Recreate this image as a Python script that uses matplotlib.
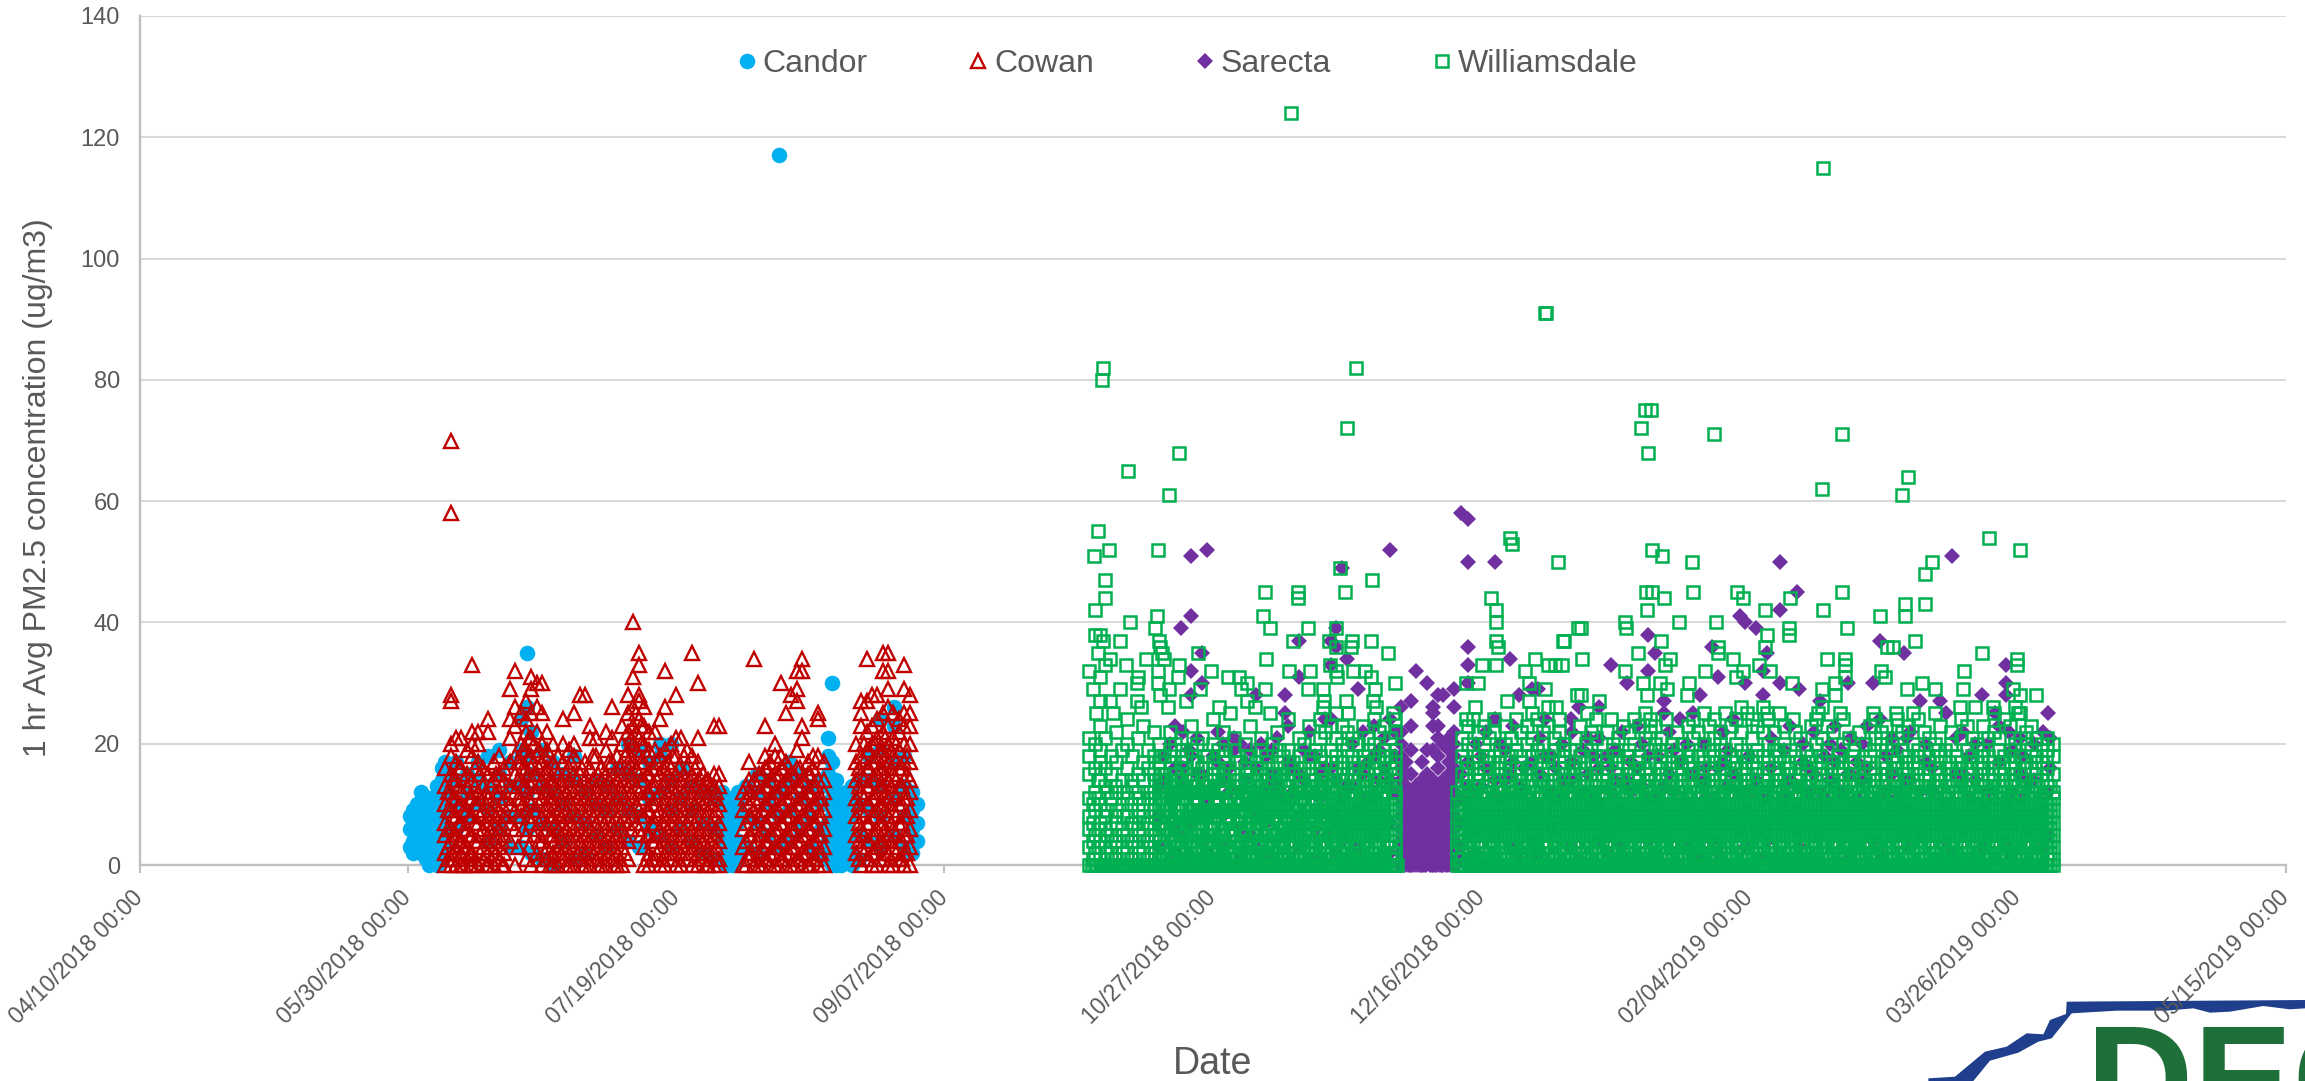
'''1 hr PM2.5 scatter for four monitoring sites'''
import matplotlib
matplotlib.use('Agg')
import matplotlib.pyplot as plt
from matplotlib.patches import Polygon
from matplotlib.transforms import ScaledTranslation

plt.rcParams['font.family'] = ['Liberation Sans', 'DejaVu Sans']

# x values are days since 04/10/2018
tick_days = [0, 50, 100, 150, 200, 250, 300, 350, 400]
tick_labels = ['04/10/2018 00:00', '05/30/2018 00:00', '07/19/2018 00:00', '09/07/2018 00:00',
               '10/27/2018 00:00', '12/16/2018 00:00', '02/04/2019 00:00', '03/26/2019 00:00',
               '05/15/2019 00:00']
y_ticks = [0, 20, 40, 60, 80, 100, 120, 140]

# each row: day, then the readings seen on that day
candor_rows = [
    [50.5, 3, 6, 8], [51, 2, 4, 7, 9], [51.7, 3, 5, 8, 10], [52.5, 2, 5, 7, 9, 12], [53.3, 1, 3, 6, 8, 10],
    [54, 0, 3, 5, 8, 11], [54.8, 1, 4, 7, 10], [55.5, 0, 2, 5, 8, 11, 13], [56.3, 1, 4, 7, 10, 14, 16], [57, 3, 6, 9, 12, 15, 17],
    [59, 6, 10, 14, 17], [61, 8, 12, 15], [63, 10, 14, 17], [65, 4, 9, 13, 18], [67, 6, 11, 15, 19], [69, 3, 8, 13, 17],
    [71, 3, 8, 13, 19, 24], [72.2, 6, 12, 18, 26, 35], [73, 2, 9, 15, 22], [75, 1, 7, 13, 19], [77, 0, 6, 12, 17], [79, 4, 10, 15],
    [81, 1, 8, 14, 18], [83, 2, 7, 12], [85, 5, 10, 14], [87, 3, 9, 13], [89, 6, 11, 16], [91, 4, 9, 15, 20], [93, 3, 8, 14, 19],
    [95, 6, 11, 17], [97, 5, 12, 18, 20], [99, 3, 9, 14, 20], [101, 6, 11, 16], [103, 4, 9, 13], [105, 2, 7, 12], [107, 1, 6, 11, 12],
    [108.5, 1, 4, 7, 10, 12], [109.5, 0, 3, 6, 9, 11], [110.5, 0, 2, 5, 8, 10], [111.5, 1, 4, 7, 10, 12], [113, 3, 8, 13], [115, 2, 7, 12, 15],
    [117, 5, 10, 14], [119.1, 3, 8, 12, 117], [121, 4, 9, 14, 17], [123, 6, 11, 15], [125, 3, 8, 13], [127, 2, 6, 10, 14],
    [128.3, 1, 4, 7, 10, 13, 15, 18, 21], [129, 0, 2, 5, 8, 11, 14, 17, 30], [129.8, 0, 3, 6, 9, 12, 14], [130.8, 0, 2, 4, 7, 10], [131.7, 1, 3, 6, 9, 12],
    [132.7, 0, 2, 5, 8, 11, 13], [134, 1, 5, 10, 14], [136, 4, 9, 14, 18], [138, 3, 8, 13, 19, 24], [140.6, 5, 11, 17, 23, 26], [142.5, 3, 8, 13, 18],
    [144, 2, 6, 9, 12], [144.8, 4, 7, 10],
]

cowan_low = [
    [57, 0, 2, 5, 7, 10, 13, 16], [58, 0, 1, 4, 6, 9, 12, 15, 18, 20, 27, 28, 58, 70], [59, 0, 3, 5, 8, 11, 14, 17, 21],
    [60, 0, 2, 4, 7, 10, 12, 16, 21], [61, 1, 3, 6, 9, 13, 15, 19], [62, 0, 2, 5, 8, 11, 14, 18, 20, 22, 33], [63, 0, 4, 7, 10, 12, 17, 20, 22],
    [64, 1, 3, 6, 9, 13, 16], [65, 0, 2, 5, 8, 11, 15, 22, 24], [66, 0, 4, 7, 10, 14, 17], [67, 1, 3, 6, 9, 12, 15, 18],
    [68, 0, 2, 5, 8, 11, 14, 16], [69, 4, 7, 10, 13, 17, 21, 24, 29], [70, 0, 6, 9, 12, 15, 18, 23, 26, 32], [71, 8, 11, 14, 17, 20, 25],
    [72, 1, 5, 9, 13, 16, 19, 22, 24, 27], [73, 0, 7, 10, 13, 16, 18, 21, 25, 29, 31], [74, 2, 6, 9, 12, 15, 18, 22, 26, 30],
    [75, 0, 4, 8, 11, 14, 17, 20, 25, 30], [76, 1, 3, 7, 10, 13, 16, 19, 22], [77, 0, 2, 5, 8, 11, 14, 17, 20], [78, 0, 3, 6, 9, 12, 15, 18],
    [79, 1, 4, 7, 10, 13, 17, 20, 24], [80, 0, 2, 5, 8, 11, 14, 16, 19], [81, 0, 3, 6, 9, 12, 15, 18, 20, 25], [82, 1, 4, 7, 10, 13, 15, 28],
    [83, 0, 2, 5, 8, 11, 14, 17, 28], [84, 0, 3, 6, 9, 12, 16, 21, 23], [85, 1, 4, 7, 10, 13, 18, 21], [86, 0, 2, 5, 8, 11, 14, 16],
    [87, 0, 3, 6, 9, 12, 15, 19, 22], [88, 1, 4, 7, 10, 13, 17, 21, 26], [89, 0, 2, 5, 8, 11, 14, 18], [90, 0, 3, 6, 9, 12, 15, 20, 23],
    [91, 1, 4, 7, 10, 13, 16, 19, 22, 25, 28], [92, 8, 11, 14, 17, 20, 23, 26, 31, 40], [93, 6, 9, 12, 15, 18, 21, 24, 27, 28, 33, 35],
    [94, 0, 3, 8, 11, 14, 17, 20, 23, 26], [95, 0, 2, 5, 9, 12, 15, 19, 22], [96, 1, 4, 7, 10, 13, 16, 19, 22], [97, 0, 3, 6, 9, 12, 15, 18, 24],
    [98, 0, 2, 5, 8, 11, 14, 19, 26, 32], [99, 1, 4, 7, 10, 13, 16, 20], [100, 0, 3, 6, 9, 12, 15, 18, 21, 28], [101, 0, 2, 5, 8, 11, 14, 21],
    [102, 1, 4, 7, 10, 13, 16, 19], [103, 0, 3, 6, 9, 12, 15, 18, 35], [104, 0, 2, 5, 8, 11, 14, 17, 21, 30], [105, 1, 4, 7, 10, 13, 15],
    [106, 0, 3, 6, 9, 12, 14], [107, 0, 2, 5, 8, 11, 13, 15, 23], [108, 0, 1, 4, 7, 10, 13, 15, 23],
    [112.5, 0, 3, 6, 9, 12], [113.5, 1, 2, 5, 8, 10, 14, 17], [114.5, 0, 3, 6, 9, 11, 14, 34], [115.5, 0, 2, 5, 8, 12, 15],
    [116.5, 1, 4, 7, 10, 13, 16, 18, 23], [117.5, 0, 2, 5, 8, 11, 14, 17], [118.5, 0, 3, 6, 9, 12, 15, 18, 20], [119.5, 1, 4, 7, 10, 13, 16, 18, 30],
    [120.5, 0, 2, 5, 8, 11, 14, 17, 25], [121.5, 0, 3, 6, 9, 12, 15, 28], [122.5, 1, 4, 7, 10, 13, 16, 19, 27, 29, 32], [123.5, 0, 2, 5, 8, 11, 14, 21, 23, 32, 34],
    [124.5, 0, 3, 6, 9, 12, 15, 17], [125.5, 1, 4, 7, 10, 13, 16, 18], [126.5, 0, 2, 5, 8, 11, 14, 18, 24, 25], [127.5, 0, 3, 6, 9, 12, 14, 17],
    [133.5, 2, 5, 8, 11, 14, 17, 20], [134.5, 0, 3, 6, 9, 12, 15, 18, 23, 25, 27], [135.5, 1, 4, 7, 10, 13, 16, 19, 22, 27, 34], [136.5, 0, 2, 5, 8, 11, 14, 17, 20, 23, 28],
    [137.5, 0, 3, 6, 9, 12, 15, 18, 21, 24, 28], [138.5, 1, 4, 7, 10, 13, 16, 19, 22, 25, 32, 35], [139.5, 0, 2, 5, 8, 11, 14, 17, 20, 23, 26, 29, 32, 35],
    [140.5, 0, 3, 6, 9, 12, 15, 18, 21, 25], [141.5, 1, 4, 7, 10, 13, 16, 19, 22, 24], [142.5, 0, 2, 5, 8, 11, 14, 17, 20, 23, 25, 29, 33], [143.5, 0, 3, 6, 9, 12, 14, 17, 20, 23, 25, 28],
]
# second reading per day in the solid part of Cowan
cowan_mid = [
    [57.5, 1, 3, 6, 9, 12], [58.5, 2, 5, 8, 11, 14], [59.5, 1, 4, 7, 10, 13, 16], [60.5, 0, 3, 6, 9, 14], [61.5, 0, 2, 5, 8, 11], [62.5, 1, 4, 7, 10, 13, 16],
    [63.5, 2, 5, 8, 11, 15], [64.5, 0, 4, 7, 10, 12], [65.5, 1, 3, 6, 9, 13], [66.5, 2, 5, 8, 12, 15], [67.5, 0, 4, 7, 10, 13], [70.5, 3, 8, 11, 14, 17],
    [71.5, 6, 10, 13, 16, 19], [72.5, 3, 8, 11, 15, 18, 21], [73.5, 5, 9, 12, 15, 20], [74.5, 1, 4, 7, 10, 13, 16, 19], [75.5, 2, 6, 9, 12, 15, 18], [76.5, 0, 5, 8, 11, 14],
    [77.5, 1, 4, 7, 10, 13, 16], [78.5, 2, 5, 8, 11, 14], [79.5, 0, 3, 6, 9, 12, 15], [80.5, 1, 4, 7, 10, 13, 17], [81.5, 2, 5, 8, 11, 14], [82.5, 0, 3, 6, 9, 12, 16],
    [83.5, 1, 4, 7, 10, 13], [84.5, 2, 5, 8, 11, 14, 18], [85.5, 0, 3, 6, 9, 12, 15], [86.5, 1, 4, 7, 10, 13], [87.5, 2, 5, 8, 11, 14, 17], [88.5, 0, 3, 6, 9, 12, 15],
    [89.5, 1, 4, 7, 10, 13, 16], [90.5, 2, 5, 8, 11, 14, 18], [91.5, 6, 9, 12, 15, 18, 21], [92.5, 7, 10, 13, 16, 19, 22, 25], [93.5, 5, 8, 11, 14, 17, 20, 23], [94.5, 1, 5, 9, 12, 15, 18],
    [95.5, 1, 4, 7, 10, 13, 16], [96.5, 2, 5, 8, 11, 14, 17], [97.5, 1, 4, 7, 10, 13, 16], [98.5, 3, 6, 9, 12, 15, 17], [99.5, 2, 5, 8, 11, 14, 18], [100.5, 1, 4, 7, 10, 13, 16],
    [101.5, 3, 6, 9, 12, 15, 18], [102.5, 2, 5, 8, 11, 14], [103.5, 1, 4, 7, 10, 13, 16], [104.5, 3, 6, 9, 12], [105.5, 0, 2, 5, 8, 11, 14], [106.5, 1, 4, 7, 10, 13], [107.5, 3, 6, 9, 12],
    [113, 0, 4, 7, 11, 13], [114, 2, 5, 8, 12], [115, 1, 4, 7, 10, 13], [116, 0, 3, 6, 9, 12, 15], [117, 1, 4, 7, 10, 13, 16], [118, 2, 5, 8, 11, 14], [119, 0, 3, 6, 9, 12, 15],
    [120, 1, 4, 7, 10, 13, 16], [121, 2, 5, 8, 11, 14], [122, 0, 3, 6, 9, 12, 15], [123, 1, 4, 7, 10, 13, 16], [124, 2, 5, 8, 11, 14], [125, 0, 3, 6, 9, 12, 15], [126, 1, 4, 7, 10, 13], [127, 2, 5, 8, 11],
    [134, 1, 4, 7, 10, 13, 16], [135, 2, 5, 8, 11, 14, 17, 20], [136, 1, 4, 7, 10, 13, 16, 19], [137, 2, 5, 8, 11, 14, 17, 20], [138, 1, 4, 7, 10, 13, 16, 19], [139, 3, 6, 9, 12, 15, 18, 21],
    [140, 1, 4, 7, 10, 13, 16, 19], [141, 2, 5, 8, 11, 14, 17, 20], [142, 1, 4, 7, 10, 13, 16], [143, 2, 5, 8, 11, 15, 18],
]

# Sarecta shows where Williamsdale has no data and through the open squares
sarecta_rows = [
    [190, 3, 8, 13], [193, 2, 6, 11, 16, 23], [194, 39, 5, 14], [196, 1, 7, 12, 18, 28, 32, 41, 51], [198, 0, 4, 9, 15, 30, 35], [199, 2, 10, 52],
    [202, 3, 8, 14, 20], [205, 1, 6, 12, 20], [207, 0, 5, 10, 19], [208, 3, 9, 16, 28], [210, 2, 7, 13, 18], [213.5, 0, 5, 11, 25, 28], [216, 3, 8, 15, 31, 37],
    [219, 1, 6, 12, 18], [222, 5, 9, 16, 24, 33, 37], [223, 2, 7, 14, 36, 39], [224, 4, 11, 49], [225, 1, 6, 13, 34], [227, 3, 9, 16, 29], [230, 0, 5, 11, 18, 23],
    [233, 2, 7, 14, 24, 52],
    [235, 0, 2, 4, 6, 8, 10, 12, 14, 16, 18, 20, 22, 26], [236, 1, 3, 5, 7, 9, 11, 13, 15, 17], [237, 0, 2, 4, 6, 8, 10, 12, 15, 19, 23, 27], [237.9, 1, 3, 5, 7, 9, 11, 13, 32],
    [239, 0, 2, 4, 6, 8, 10, 12, 14, 17], [240, 1, 3, 5, 7, 9, 11, 13, 15, 19, 30], [241, 0, 2, 4, 6, 8, 10, 12, 14, 19, 23, 25, 26], [242, 1, 3, 5, 7, 9, 11, 13, 16, 18, 21, 23, 28],
    [243, 0, 2, 4, 6, 8, 10, 12, 14, 20, 28], [244, 1, 3, 5, 7, 9, 11, 13, 15, 17, 19, 21], [245, 0, 2, 4, 6, 8, 10, 12, 14, 16, 18, 20, 22, 26, 29], [246.2, 1, 3, 7, 11, 15, 58],
    [247.5, 5, 9, 13, 17, 30, 33, 36, 50, 57], [249, 2, 6, 12, 20], [252.6, 0, 6, 14, 24, 50], [255.3, 3, 8, 15, 34], [257, 1, 7, 13, 28], [259.5, 4, 10, 17, 29], [260.6, 2, 9, 29],
    [263, 0, 6, 12, 18], [266.8, 3, 8, 14, 24], [268.2, 1, 7, 26], [272, 4, 10, 16, 21, 26], [273.4, 2, 8, 18], [274.2, 5, 12, 16, 33], [276.2, 3, 9, 22], [277.2, 1, 7, 14, 30],
    [281.2, 4, 11, 18, 32, 38], [282.4, 2, 8, 35], [284, 0, 6, 13, 25, 27], [288.3, 3, 9, 20], [289.5, 5, 15, 25], [290.8, 1, 7, 28], [293, 4, 10, 36], [294.2, 2, 8, 16, 31],
    [298.2, 0, 6, 12, 41], [299.2, 3, 9, 30, 40], [301.3, 5, 14, 39], [302.6, 1, 7, 28, 32], [303.2, 4, 11, 35], [305.8, 2, 8, 30, 42, 50], [308.9, 0, 6, 13, 45], [309.2, 3, 9, 29],
    [313.2, 5, 12, 27], [318.3, 1, 7, 15, 30], [323.1, 4, 10, 30], [324.4, 2, 8, 24, 37], [328.8, 0, 6, 14, 35], [329.3, 3, 9, 21], [331.8, 5, 12, 27], [335.5, 1, 7, 27], [336.7, 4, 10, 25],
    [337.7, 2, 8, 51], [339.9, 0, 6, 15, 22], [343.3, 3, 9, 28], [344.5, 5, 12, 20], [345.8, 1, 7, 25], [347.9, 4, 10, 28, 30, 33], [348.3, 2, 8, 22], [352, 0, 6, 14], [354.8, 3, 9, 22], [355.7, 5, 12, 25],
]
# Sarecta in the 10 to 24 range, seen through the top of the green band
sarecta_band = [
    [191, 14, 18], [192, 11, 20], [194.5, 16, 22], [195.5, 12, 19], [197, 15, 21], [200, 13, 18], [201, 17, 22], [203, 12, 16], [204, 19, 21], [206, 14, 17], [209, 11, 20], [211, 15, 19],
    [212, 13, 21], [214, 17, 23], [215, 12, 16], [217, 14, 19], [218, 18, 22], [220, 11, 15], [221, 16, 24], [226, 13, 20], [228, 15, 22], [229, 11, 17], [231, 14, 19], [232, 16, 21], [234, 12, 18, 22],
    [250, 13, 18], [251, 16, 22], [253.5, 11, 20], [254.5, 14, 19], [256, 17, 23], [258, 12, 16], [261, 15, 21], [262, 18, 24], [264, 11, 16], [265, 14, 20], [267, 17, 22], [269, 12, 19], [270, 15, 21],
    [271, 11, 18], [275, 14, 19], [278, 12, 17], [279, 16, 23], [280, 13, 20], [283, 11, 18], [285, 15, 22], [286, 12, 19], [287, 17, 24], [291.5, 14, 20], [292, 11, 16], [295, 17, 22], [296, 13, 19],
    [297, 15, 24], [300, 12, 18], [304, 16, 21], [306.5, 11, 19], [307.5, 14, 23], [310, 17, 20], [311, 12, 16], [312, 15, 22], [314, 11, 18], [315, 14, 20], [316, 17, 23], [317, 12, 19], [319, 15, 21],
    [320, 11, 17], [321, 14, 20], [322, 16, 23], [325.5, 12, 18], [326.5, 15, 21], [327.5, 11, 19], [330, 14, 22], [333, 17, 20], [334, 12, 16], [338.5, 15, 21], [341, 11, 18], [342, 14, 20], [346.5, 17, 23],
    [349, 12, 19], [350.5, 15, 21], [351, 11, 18], [353, 14, 20], [356, 16, 21],
]
# readings of zero in the stretch with no Williamsdale data
sarecta_zero_days = [234.8, 235.4, 235.8, 236.4, 236.8, 237.4, 237.8, 238.4, 238.8, 239.4, 239.8, 240.4, 240.8, 241.4, 241.8, 242.4, 242.8, 243.4, 243.8, 244.4, 244.8, 245.3]

# Williamsdale readings above the dense band (day, value pairs)
wd_high_days = [214.6, 313.8, 262, 262.1, 179.6, 179.3, 226.7, 225, 280.6, 281.7, 279.8, 281.2, 293.5, 317.3, 193.8, 184.3, 191.9, 313.5, 329.6, 328.5,
                178.7, 180.7, 177.9, 189.8, 179.9, 180, 178.1, 184.6, 189.7, 189.2, 178, 179, 182.7, 179.5, 189.9, 190.1, 190.6, 178.6, 180.8, 187.6, 183.8, 191, 177, 193.7,
                179.9, 193.5, 186, 189.8, 179, 177.7, 182.7, 185.8, 189.8, 191.8, 190.1, 185.8, 179, 180.9, 191.7, 186.7, 178.3, 181.4,
                197.2, 199.7, 197.7, 195.1, 202.8, 204.9, 206.3, 205.3, 209.8, 206.3, 201.2, 207.8, 210.6, 203.2,
                209.7, 215.8, 215.8, 224.7, 209.4, 210.7, 217.8, 214.9, 229.7, 223.8, 222.9, 221.7, 225.9, 229.4, 222.9, 225.8, 210, 232.7, 221.8, 214.2, 218.2, 222.9, 226.1, 228.3, 229.5, 223.1,
                217.7, 230.2, 233.9, 220.5, 220.8, 224.9, 229.9, 230.4, 220.5, 225.2, 233.6,
                255.3, 255.8, 264.3, 251.9, 252.7, 252.7, 252.7, 253.2, 265.2, 268, 250.2, 252.8, 260, 258.2, 262.5, 263.7, 265, 247.1, 249.4, 259, 262, 254.9, 259, 248.8, 262.5, 264, 267.9, 247.2,
                344.6, 350.4, 334, 332.7, 281.8, 283.8, 289.4, 329, 332.7, 317.2, 289.5, 280.7, 281.8, 297.7, 298.9, 284, 307.6, 302.9, 313.8, 280.9, 324.3, 329, 276.8, 277, 286.9, 293.8, 268.7,
                307.4, 307.4, 318.1, 303.2, 283.6, 265.4, 330.8, 294.2, 302.9, 325.6, 326.8, 279.3, 343.3, 294.2, 268.9, 285.2, 297, 314.4, 317.8, 349.9, 317.8, 349.8, 301.8, 276.8, 284.3, 340,
                291.7, 298.9, 303.8, 324.5, 317.8, 325.3, 297.6, 280.1, 283.3, 288.8, 307.9, 316, 332.1, 329.3, 339.9, 334.6, 284.6, 313.5, 349.2, 268.7, 288.3, 281, 316, 353.5, 350.4, 272,
                339.2, 342, 345.4, 327.4, 350.1, 316.9, 303.2, 269.8, 274.3, 308.2, 312.8, 323.1]
wd_high_vals = [124, 115, 91, 91, 82, 80, 82, 72, 75, 75, 72, 68, 71, 71, 68, 65, 61, 62, 64, 61,
                55, 52, 51, 52, 47, 44, 42, 40, 41, 39, 38, 38, 37, 37, 37, 36, 35, 35, 34, 34, 33, 34, 32, 33,
                33, 31, 31, 32, 31, 29, 29, 30, 30, 29, 28, 27, 27, 27, 26, 26, 25, 25,
                35, 32, 29, 27, 31, 31, 30, 29, 29, 27, 26, 26, 25, 25,
                45, 45, 44, 45, 41, 39, 39, 37, 47, 49, 39, 37, 37, 37, 36, 36, 34, 35, 33, 32, 32, 32, 32, 32, 31, 31,
                29, 29, 30, 29, 27, 27, 27, 26, 26, 25, 25,
                54, 53, 50, 44, 42, 40, 37, 36, 37, 39, 33, 33, 34, 32, 33, 33, 33, 30, 30, 30, 29, 27, 27, 26, 26, 26, 28, 24,
                54, 52, 50, 48, 52, 51, 50, 43, 43, 45, 45, 45, 45, 45, 44, 44, 44, 42, 42, 42, 41, 41, 40, 39, 40, 40, 39,
                39, 38, 39, 38, 37, 37, 37, 36, 36, 36, 36, 35, 35, 35, 34, 34, 34, 34, 34, 34, 33, 33, 33, 32, 33, 32,
                32, 32, 32, 32, 31, 31, 31, 30, 30, 30, 30, 30, 30, 29, 29, 29, 29, 29, 29, 28, 28, 28, 28, 28, 28, 27,
                26, 26, 26, 25, 25, 25, 25, 25, 24, 24, 25, 25]

wd_early = [
    [177, 0, 3, 6, 8, 11, 15, 18, 21], [178, 0, 2, 5, 9, 12, 16, 20], [179, 0, 1, 4, 7, 10, 14, 17, 19, 23], [180, 0, 3, 6, 8, 13, 16, 21], [181, 0, 2, 5, 11, 15, 18],
    [182, 0, 1, 4, 7, 9, 12, 17, 22], [183, 0, 3, 6, 10, 14, 19], [184, 0, 2, 5, 8, 11, 16, 20, 24], [185, 0, 1, 4, 7, 13, 18], [186, 0, 3, 6, 9, 12, 15, 21],
    [187, 0, 2, 5, 8, 10, 14, 17, 23], [188, 0, 1, 4, 7, 11, 16, 19], [189, 0, 3, 6, 9, 12, 15, 18, 22],
    [177.7, 1, 4, 7, 10], [178.7, 3, 6, 11, 14], [180.3, 2, 5, 9, 12], [181.7, 1, 4, 8, 13], [183.3, 2, 5, 8, 12], [184.7, 1, 4, 7, 10, 14], [186.3, 2, 5, 8, 11], [187.7, 1, 4, 7, 12], [189.3, 2, 5, 8, 11, 14],
]
wd_nov = [
    [190, 0, 1, 2, 4, 5, 7, 8, 10, 12, 14, 17, 20], [191, 0, 1, 3, 4, 6, 7, 9, 11, 13, 15, 18], [192, 0, 2, 3, 5, 6, 8, 9, 10, 12, 16, 19, 22], [193, 0, 1, 2, 4, 5, 7, 8, 11, 13, 15, 20],
    [194, 0, 1, 3, 4, 6, 7, 9, 10, 12, 14, 17, 21], [195, 0, 2, 3, 5, 6, 8, 10, 11, 13, 16, 18], [196, 0, 1, 2, 4, 5, 7, 9, 12, 14, 19, 23], [197, 0, 1, 3, 4, 6, 8, 10, 11, 13, 15, 17, 20],
    [198, 0, 2, 3, 5, 6, 7, 9, 12, 14, 16, 21], [199, 0, 1, 2, 4, 5, 8, 10, 11, 13, 18], [200, 0, 1, 3, 4, 6, 7, 9, 12, 15, 17, 20, 24], [201, 0, 2, 3, 5, 7, 8, 10, 11, 14, 16, 19],
    [202, 0, 1, 2, 4, 5, 6, 9, 12, 13, 15, 18, 22], [203, 0, 1, 3, 4, 7, 8, 10, 11, 14, 16], [204, 0, 2, 3, 5, 6, 9, 11, 12, 15, 19, 21], [205, 0, 1, 2, 4, 6, 7, 8, 10, 13, 17],
    [206, 0, 1, 3, 5, 6, 8, 9, 12, 14, 16, 20], [207, 0, 2, 3, 4, 7, 9, 10, 11, 13, 15, 18, 23], [208, 0, 1, 2, 5, 6, 8, 10, 12, 14, 17], [209, 0, 1, 3, 4, 6, 7, 9, 11, 13, 16, 19, 21],
    [210, 0, 2, 3, 5, 7, 8, 10, 12, 15, 18], [211, 0, 1, 2, 4, 6, 7, 9, 11, 14, 16, 20], [212, 0, 1, 3, 5, 6, 8, 10, 12, 13, 17, 22], [213, 0, 2, 3, 4, 6, 9, 11, 12, 15, 18],
    [214, 0, 1, 2, 5, 7, 8, 10, 13, 14, 16, 19, 24], [215, 0, 1, 3, 4, 6, 8, 9, 11, 15, 17], [216, 0, 2, 3, 5, 7, 9, 10, 12, 14, 18, 21], [217, 0, 1, 2, 4, 6, 8, 10, 11, 13, 16, 20],
    [218, 0, 1, 3, 5, 6, 7, 9, 12, 15, 17, 23], [219, 0, 2, 3, 4, 7, 8, 10, 11, 14, 19], [220, 0, 1, 2, 5, 6, 9, 11, 13, 16, 18, 21, 24], [221, 0, 1, 3, 4, 6, 8, 10, 12, 14, 17, 22],
    [222, 0, 2, 3, 5, 7, 9, 11, 13, 15, 19, 23], [223, 0, 1, 2, 4, 6, 8, 10, 12, 16, 18, 21, 25], [224, 0, 1, 3, 5, 7, 9, 11, 14, 17, 20, 23], [225, 0, 2, 3, 4, 6, 8, 10, 13, 15, 19, 22],
    [226, 0, 1, 2, 5, 7, 9, 11, 12, 16, 18, 21], [227, 0, 1, 3, 4, 6, 8, 10, 14, 17, 20], [228, 0, 2, 3, 5, 7, 9, 11, 13, 15, 18, 23], [229, 0, 1, 2, 4, 6, 8, 10, 12, 16, 19, 21],
    [230, 0, 1, 3, 5, 7, 9, 11, 14, 17, 20, 24], [231, 0, 2, 3, 4, 6, 8, 10, 13, 15, 18, 22], [232, 0, 1, 2, 5, 7, 9, 11, 12, 14, 17, 19, 23], [233, 0, 1, 3, 4, 6, 8, 10, 13, 16, 18, 21],
    [234, 0, 2, 3, 5, 7, 9, 11, 12, 15, 17, 19, 22, 24],
]
wd_dec_jan = [
    [245.5, 0, 1, 3, 4, 6, 8, 10, 12], [246.5, 0, 2, 3, 5, 7, 9, 11, 13, 15, 18, 21], [247.5, 0, 1, 2, 4, 6, 8, 10, 12, 14, 16, 20, 23], [248.5, 0, 1, 3, 5, 7, 9, 11, 13, 17, 19, 24],
    [249.5, 0, 2, 3, 4, 6, 8, 10, 14, 15, 18, 22], [250.5, 0, 1, 2, 5, 7, 9, 11, 12, 16, 20, 23], [251.5, 0, 1, 3, 4, 6, 8, 10, 13, 15, 17, 21], [252.5, 0, 2, 3, 5, 7, 9, 11, 14, 18, 22, 24],
    [253.5, 0, 1, 2, 4, 6, 8, 10, 12, 13, 16, 19], [254.5, 0, 1, 3, 5, 7, 9, 11, 15, 17, 20, 23], [255.5, 0, 2, 3, 4, 6, 8, 10, 12, 14, 18, 21], [256.5, 0, 1, 2, 5, 7, 9, 11, 13, 16, 19, 24],
    [257.5, 0, 1, 3, 4, 6, 8, 10, 12, 15, 17, 22], [258.5, 0, 2, 3, 5, 7, 9, 11, 14, 16, 20, 23], [259.5, 0, 1, 2, 4, 6, 8, 10, 13, 18, 21, 25], [260.5, 0, 1, 3, 5, 7, 9, 11, 12, 15, 19, 24],
    [261.5, 0, 2, 3, 4, 6, 8, 10, 14, 17, 20, 22], [262.5, 0, 1, 2, 5, 7, 9, 11, 13, 16, 18, 23], [263.5, 0, 1, 3, 4, 6, 8, 10, 12, 15, 19, 21], [264.5, 0, 2, 3, 5, 7, 9, 11, 14, 17, 22, 24],
    [265.5, 0, 1, 2, 4, 6, 8, 10, 13, 16, 18, 20], [266.5, 0, 1, 3, 5, 7, 9, 11, 12, 15, 19], [267.5, 0, 2, 3, 4, 6, 8, 10, 14, 17, 21], [268.5, 0, 1, 2, 5, 7, 9, 11, 13, 16, 18, 23],
    [269.5, 0, 1, 3, 4, 6, 8, 10, 12, 15, 20], [270.5, 0, 2, 3, 5, 7, 9, 11, 14, 17, 19, 22], [271.5, 0, 1, 2, 4, 6, 8, 10, 13, 16, 21, 24], [272.5, 0, 1, 3, 5, 7, 9, 11, 12, 15, 18],
    [273.5, 0, 2, 3, 4, 6, 8, 10, 14, 17, 22], [274.5, 0, 1, 2, 5, 7, 9, 11, 13, 19, 20], [275.5, 0, 1, 3, 4, 6, 8, 10, 12, 15, 18, 21], [276.5, 0, 2, 3, 5, 7, 9, 11, 14, 17, 23],
    [277.5, 0, 1, 2, 4, 6, 8, 10, 13, 16, 19, 22], [278.5, 0, 1, 3, 5, 7, 9, 11, 12, 15, 20, 24], [279.5, 0, 2, 3, 4, 6, 8, 10, 14, 17, 18, 23], [280.5, 0, 1, 2, 5, 7, 9, 11, 13, 16, 21, 25],
    [281.5, 0, 1, 3, 4, 6, 8, 10, 12, 15, 19, 22, 24], [282.5, 0, 2, 3, 5, 7, 9, 11, 14, 17, 20, 23], [283.5, 0, 1, 2, 4, 6, 8, 10, 13, 16, 18, 21], [284.5, 0, 1, 3, 5, 7, 9, 11, 12, 15, 19, 24],
    [285.5, 0, 2, 3, 4, 6, 8, 10, 14, 17, 20], [286.5, 0, 1, 2, 5, 7, 9, 11, 13, 16, 18, 22], [287.5, 0, 1, 3, 4, 6, 8, 10, 12, 15, 20], [288.5, 0, 2, 3, 5, 7, 9, 11, 14, 17, 19, 23],
    [289.5, 0, 1, 2, 4, 6, 8, 10, 13, 16, 21, 24], [290.5, 0, 1, 3, 5, 7, 9, 11, 12, 15, 18, 22], [291.5, 0, 2, 3, 4, 6, 8, 10, 14, 17, 20, 25], [292.5, 0, 1, 2, 5, 7, 9, 11, 13, 16, 19, 23],
    [293.5, 0, 1, 3, 4, 6, 8, 10, 12, 15, 18, 21, 24], [294.5, 0, 2, 3, 5, 7, 9, 11, 14, 17, 20, 22], [295.5, 0, 1, 2, 4, 6, 8, 10, 13, 16, 19, 25], [296.5, 0, 1, 3, 5, 7, 9, 11, 12, 15, 18, 23],
    [297.5, 0, 2, 3, 4, 6, 8, 10, 14, 17, 20, 24], [298.5, 0, 1, 2, 5, 7, 9, 11, 13, 16, 19, 22, 26], [299.5, 0, 1, 3, 4, 6, 8, 10, 12, 15, 18, 25], [300.5, 0, 2, 3, 5, 7, 9, 11, 14, 17, 21, 24],
]
wd_feb_mar = [
    [301.5, 0, 1, 2, 4, 6, 8, 10, 13, 16, 19, 23], [302.5, 0, 1, 3, 5, 7, 9, 11, 12, 15, 18, 22, 26], [303.5, 0, 2, 3, 4, 6, 8, 10, 14, 17, 20, 24], [304.5, 0, 1, 2, 5, 7, 9, 11, 13, 16, 19, 22],
    [305.5, 0, 1, 3, 4, 6, 8, 10, 12, 15, 18, 25], [306.5, 0, 2, 3, 5, 7, 9, 11, 14, 17, 20, 23], [307.5, 0, 1, 2, 4, 6, 8, 10, 13, 16, 19], [308.5, 0, 1, 3, 5, 7, 9, 11, 12, 15, 18, 22],
    [309.5, 0, 2, 3, 4, 6, 8, 10, 14, 17, 21], [310.5, 0, 1, 2, 5, 7, 9, 11, 13, 16, 19], [311.5, 0, 1, 3, 4, 6, 8, 10, 12, 15, 18, 23], [312.5, 0, 2, 3, 5, 7, 9, 11, 14, 17, 20, 24],
    [313.5, 0, 1, 2, 4, 6, 8, 10, 13, 16, 21, 26], [314.5, 0, 1, 3, 5, 7, 9, 11, 12, 15, 19, 23], [315.5, 0, 2, 3, 4, 6, 8, 10, 14, 17, 22], [316.5, 0, 1, 2, 5, 7, 9, 11, 13, 16, 18],
    [317.5, 0, 1, 3, 4, 6, 8, 10, 12, 15, 20, 24], [318.5, 0, 2, 3, 5, 7, 9, 11, 14, 17, 21], [319.5, 0, 1, 2, 4, 6, 8, 10, 13, 16, 19], [320.5, 0, 1, 3, 5, 7, 9, 11, 12, 15, 22],
    [321.5, 0, 2, 3, 4, 6, 8, 10, 14, 17, 20], [322.5, 0, 1, 2, 5, 7, 9, 11, 13, 16, 18, 23], [323.5, 0, 1, 3, 4, 6, 8, 10, 12, 15, 21, 24], [324.5, 0, 2, 3, 5, 7, 9, 11, 14, 17, 20, 22],
    [325.5, 0, 1, 2, 4, 6, 8, 10, 13, 16, 19, 23], [326.5, 0, 1, 3, 5, 7, 9, 11, 12, 15, 18, 20], [327.5, 0, 2, 3, 4, 6, 8, 10, 14, 17, 21, 24], [328.5, 0, 1, 2, 5, 7, 9, 11, 13, 16, 19, 22],
    [329.5, 0, 1, 3, 4, 6, 8, 10, 12, 15, 18, 23], [330.5, 0, 2, 3, 5, 7, 9, 11, 14, 17, 20, 25], [331.5, 0, 1, 2, 4, 6, 8, 10, 13, 16, 19, 24], [332.5, 0, 1, 3, 5, 7, 9, 11, 12, 15, 18, 22],
    [333.5, 0, 2, 3, 4, 6, 8, 10, 14, 17, 21], [334.5, 0, 1, 2, 5, 7, 9, 11, 13, 16, 20, 25], [335.5, 0, 1, 3, 4, 6, 8, 10, 12, 15, 18, 23], [336.5, 0, 2, 3, 5, 7, 9, 11, 14, 17, 19],
    [337.5, 0, 1, 2, 4, 6, 8, 10, 13, 16, 20, 22], [338.5, 0, 1, 3, 5, 7, 9, 11, 12, 15, 18], [339.5, 0, 2, 3, 4, 6, 8, 10, 14, 17, 21, 24], [340.5, 0, 1, 2, 5, 7, 9, 11, 13, 16, 19, 23],
    [341.5, 0, 1, 3, 4, 6, 8, 10, 12, 15, 18, 21], [342.5, 0, 2, 3, 5, 7, 9, 11, 14, 17, 20], [343.5, 0, 1, 2, 4, 6, 8, 10, 13, 16, 19, 23], [344.5, 0, 1, 3, 5, 7, 9, 11, 12, 15, 18, 21],
    [345.5, 0, 2, 3, 4, 6, 8, 10, 14, 17, 22, 25], [346.5, 0, 1, 2, 5, 7, 9, 11, 13, 16, 19, 21], [347.5, 0, 1, 3, 4, 6, 8, 10, 12, 15, 18, 24], [348.5, 0, 2, 3, 5, 7, 9, 11, 14, 17, 19, 23],
    [349.5, 0, 1, 2, 4, 6, 8, 10, 13, 16, 20, 26], [350.5, 0, 1, 3, 5, 7, 9, 11, 12, 15, 18, 21, 25], [351.5, 0, 2, 3, 4, 6, 8, 10, 14, 17, 20, 22], [352.5, 0, 1, 2, 5, 7, 9, 11, 13, 16, 19, 23],
    [353.5, 0, 1, 3, 4, 6, 8, 10, 12, 15, 18, 21], [354.5, 0, 2, 3, 5, 7, 9, 11, 14, 17, 20], [355.5, 0, 1, 2, 4, 6, 8, 10, 13, 16, 19, 21], [356.5, 0, 1, 3, 5, 7, 9, 11, 12, 15, 18, 20],
]
# more readings between the daily rows, the band is nearly solid up to about 12
wd_between_a = [
    [190.5, 1, 3, 6, 9, 11, 13], [191.5, 2, 5, 8, 10, 12], [192.5, 1, 4, 7, 11, 13], [193.5, 3, 6, 9, 10, 12, 14], [194.5, 2, 5, 8, 11, 13], [195.5, 1, 4, 7, 9, 12, 15], [196.5, 3, 6, 8, 10, 11, 13],
    [197.5, 2, 5, 7, 9, 12], [198.5, 1, 4, 8, 10, 11, 13], [199.5, 3, 6, 7, 9, 12, 14], [200.5, 2, 5, 8, 10, 11], [201.5, 1, 4, 6, 9, 12, 13], [202.5, 3, 7, 8, 10, 11, 14], [203.5, 2, 5, 6, 9, 12],
    [204.5, 1, 4, 7, 8, 10, 13], [205.5, 3, 5, 9, 11, 12], [206.5, 2, 4, 7, 10, 11, 13], [207.5, 1, 5, 6, 8, 12, 14], [208.5, 3, 4, 7, 9, 11, 13], [209.5, 2, 5, 8, 10, 12], [210.5, 1, 4, 6, 9, 11, 13],
    [211.5, 3, 5, 8, 10, 12, 15], [212.5, 2, 4, 7, 9, 11, 14], [213.5, 1, 5, 7, 8, 10, 13], [214.5, 3, 4, 6, 9, 11, 12], [215.5, 2, 5, 7, 10, 12, 13], [216.5, 1, 4, 6, 8, 11, 13], [217.5, 3, 5, 7, 9, 12],
    [218.5, 2, 4, 8, 10, 11, 14], [219.5, 1, 5, 6, 9, 12, 13], [220.5, 3, 4, 7, 8, 10, 12], [221.5, 2, 5, 7, 9, 11, 13], [222.5, 1, 4, 6, 8, 10, 12], [223.5, 3, 5, 7, 9, 11, 14], [224.5, 2, 4, 6, 8, 10, 12],
    [225.5, 1, 5, 7, 9, 11, 12], [226.5, 3, 4, 6, 8, 10, 13], [227.5, 2, 5, 7, 9, 11, 12], [228.5, 1, 4, 6, 8, 10, 12], [229.5, 3, 5, 7, 9, 11, 13], [230.5, 2, 4, 6, 8, 10, 12], [231.5, 1, 5, 7, 9, 11, 12],
    [232.5, 3, 4, 6, 8, 10, 13], [233.5, 2, 5, 7, 9, 11, 12],
]
wd_between_b = [
    [246, 1, 4, 6, 8, 10], [247, 3, 5, 7, 9, 11, 12], [248, 2, 4, 6, 8, 10, 12], [249, 1, 5, 7, 9, 11, 13], [250, 3, 4, 6, 8, 10, 12], [251, 2, 5, 7, 9, 11, 13], [252, 1, 4, 6, 8, 10, 12], [253, 3, 5, 7, 9, 11],
    [254, 2, 4, 6, 8, 10, 12], [255, 1, 5, 7, 9, 11, 13], [256, 3, 4, 6, 8, 10, 12], [257, 2, 5, 7, 9, 11, 13], [258, 1, 4, 6, 8, 10, 12], [259, 3, 5, 7, 9, 11, 12], [260, 2, 4, 6, 8, 10, 13], [261, 1, 5, 7, 9, 11, 12],
    [262, 3, 4, 6, 8, 10, 12], [263, 2, 5, 7, 9, 11, 13], [264, 1, 4, 6, 8, 10, 12], [265, 3, 5, 7, 9, 11, 12], [266, 2, 4, 6, 8, 10, 13], [267, 1, 5, 7, 9, 11, 12], [268, 3, 4, 6, 8, 10, 12], [269, 2, 5, 7, 9, 11, 13],
    [270, 1, 4, 6, 8, 10, 12], [271, 3, 5, 7, 9, 11, 12], [272, 2, 4, 6, 8, 10, 13], [273, 1, 5, 7, 9, 11, 12], [274, 3, 4, 6, 8, 10, 12], [275, 2, 5, 7, 9, 11, 13], [276, 1, 4, 6, 8, 10, 12], [277, 3, 5, 7, 9, 11, 12],
    [278, 2, 4, 6, 8, 10, 13], [279, 1, 5, 7, 9, 11, 12], [280, 3, 4, 6, 8, 10, 12], [281, 2, 5, 7, 9, 11, 13], [282, 1, 4, 6, 8, 10, 12], [283, 3, 5, 7, 9, 11, 12], [284, 2, 4, 6, 8, 10, 13], [285, 1, 5, 7, 9, 11, 12],
    [286, 3, 4, 6, 8, 10, 12], [287, 2, 5, 7, 9, 11, 13], [288, 1, 4, 6, 8, 10, 12], [289, 3, 5, 7, 9, 11, 12], [290, 2, 4, 6, 8, 10, 13], [291, 1, 5, 7, 9, 11, 12], [292, 3, 4, 6, 8, 10, 12], [293, 2, 5, 7, 9, 11, 13],
    [294, 1, 4, 6, 8, 10, 12], [295, 3, 5, 7, 9, 11, 12], [296, 2, 4, 6, 8, 10, 13], [297, 1, 5, 7, 9, 11, 12], [298, 3, 4, 6, 8, 10, 12], [299, 2, 5, 7, 9, 11, 13], [300, 1, 4, 6, 8, 10, 12], [301, 3, 5, 7, 9, 11, 12],
    [302, 2, 4, 6, 8, 10, 13], [303, 1, 5, 7, 9, 11, 12], [304, 3, 4, 6, 8, 10, 12], [305, 2, 5, 7, 9, 11, 13], [306, 1, 4, 6, 8, 10, 12], [307, 3, 5, 7, 9, 11, 12], [308, 2, 4, 6, 8, 10, 13], [309, 1, 5, 7, 9, 11, 12],
    [310, 3, 4, 6, 8, 10, 12], [311, 2, 5, 7, 9, 11, 13], [312, 1, 4, 6, 8, 10, 12], [313, 3, 5, 7, 9, 11, 12], [314, 2, 4, 6, 8, 10, 13], [315, 1, 5, 7, 9, 11, 12], [316, 3, 4, 6, 8, 10, 12], [317, 2, 5, 7, 9, 11, 13],
    [318, 1, 4, 6, 8, 10, 12], [319, 3, 5, 7, 9, 11, 12], [320, 2, 4, 6, 8, 10, 13], [321, 1, 5, 7, 9, 11, 12], [322, 3, 4, 6, 8, 10, 12], [323, 2, 5, 7, 9, 11, 13], [324, 1, 4, 6, 8, 10, 12], [325, 3, 5, 7, 9, 11, 12],
    [326, 2, 4, 6, 8, 10, 13], [327, 1, 5, 7, 9, 11, 12], [328, 3, 4, 6, 8, 10, 12], [329, 2, 5, 7, 9, 11, 13], [330, 1, 4, 6, 8, 10, 12], [331, 3, 5, 7, 9, 11, 12], [332, 2, 4, 6, 8, 10, 13], [333, 1, 5, 7, 9, 11, 12],
    [334, 3, 4, 6, 8, 10, 12], [335, 2, 5, 7, 9, 11, 13], [336, 1, 4, 6, 8, 10, 12], [337, 3, 5, 7, 9, 11, 12], [338, 2, 4, 6, 8, 10, 13], [339, 1, 5, 7, 9, 11, 12], [340, 3, 4, 6, 8, 10, 12], [341, 2, 5, 7, 9, 11, 13],
    [342, 1, 4, 6, 8, 10, 12], [343, 3, 5, 7, 9, 11, 12], [344, 2, 4, 6, 8, 10, 13], [345, 1, 5, 7, 9, 11, 12], [346, 3, 4, 6, 8, 10, 12], [347, 2, 5, 7, 9, 11, 13], [348, 1, 4, 6, 8, 10, 12], [349, 3, 5, 7, 9, 11, 12],
    [350, 2, 4, 6, 8, 10, 13], [351, 1, 5, 7, 9, 11, 12], [352, 3, 4, 6, 8, 10, 12], [353, 2, 5, 7, 9, 11, 13], [354, 1, 4, 6, 8, 10, 12], [355, 3, 5, 7, 9, 11, 12], [356, 2, 4, 6, 8, 10, 13],
]
# readings in the looser part of the band, from 13 up to about 19
wd_upper = [
    [190.3, 15, 18], [192.3, 14, 17], [194.3, 16, 19], [196.3, 15, 17], [198.3, 13, 18], [200.3, 14, 16], [202.3, 17, 19], [204.3, 14, 17], [206.3, 15, 18], [208.3, 13, 16], [210.3, 14, 17], [212.3, 15, 19],
    [214.3, 13, 17], [216.3, 15, 16], [218.3, 13, 18], [220.3, 14, 15], [222.3, 14, 17], [224.3, 13, 16], [226.3, 14, 15], [228.3, 14, 17], [230.3, 13, 16], [232.3, 15, 18], [233.7, 14, 16],
    [247.2, 14, 17], [249.2, 13, 16], [251.2, 14, 18], [253.2, 15, 17], [255.2, 13, 16], [257.2, 14, 18], [259.2, 15, 16], [261.2, 13, 18], [263.2, 14, 17], [265.2, 15, 19], [267.2, 13, 16], [269.2, 14, 17],
    [271.2, 15, 18], [273.2, 13, 16], [275.2, 14, 17], [277.2, 15, 18], [279.2, 13, 16], [281.2, 14, 17], [283.2, 15, 19], [285.2, 13, 16], [287.2, 14, 17], [289.2, 15, 18], [291.2, 13, 16], [293.2, 14, 19],
    [295.2, 15, 17], [297.2, 13, 16], [299.2, 14, 17], [301.2, 15, 18], [303.2, 13, 16], [305.2, 14, 19], [307.2, 15, 17], [309.2, 13, 16], [311.2, 14, 17], [313.2, 15, 18], [315.2, 13, 16], [317.2, 14, 17],
    [319.2, 15, 18], [321.2, 13, 16], [323.2, 14, 19], [325.2, 15, 17], [327.2, 13, 16], [329.2, 14, 17], [331.2, 15, 18], [333.2, 13, 16], [335.2, 14, 19], [337.2, 15, 17], [339.2, 13, 16], [341.2, 14, 17],
    [343.2, 15, 18], [345.2, 13, 16], [347.2, 14, 17], [349.2, 15, 18], [351.2, 13, 16], [353.2, 14, 17], [355.2, 15, 18],
]
# extra readings of zero in between the daily rows, they make up the solid floor
wd_zero_days = [177.5, 178.5, 179.5, 180.5, 181.5, 182.5, 183.5, 184.5, 185.5, 186.5, 187.5, 188.5, 189.5, 190.5, 191.5, 192.5, 193.5, 194.5, 195.5,
                196.5, 197.5, 198.5, 199.5, 200.5, 201.5, 202.5, 203.5, 204.5, 205.5, 206.5, 207.5, 208.5, 209.5, 210.5, 211.5, 212.5, 213.5, 214.5, 215.5,
                216.5, 217.5, 218.5, 219.5, 220.5, 221.5, 222.5, 223.5, 224.5, 225.5, 226.5, 227.5, 228.5, 229.5, 230.5, 231.5, 232.5, 233.5, 234.3,
                246, 247, 248, 249, 250, 251, 252, 253, 254, 255, 256, 257, 258, 259, 260, 261, 262, 263, 264, 265, 266, 267, 268, 269, 270, 271, 272, 273, 274,
                275, 276, 277, 278, 279, 280, 281, 282, 283, 284, 285, 286, 287, 288, 289, 290, 291, 292, 293, 294, 295, 296, 297, 298, 299, 300, 301, 302, 303,
                304, 305, 306, 307, 308, 309, 310, 311, 312, 313, 314, 315, 316, 317, 318, 319, 320, 321, 322, 323, 324, 325, 326, 327, 328, 329, 330, 331, 332,
                333, 334, 335, 336, 337, 338, 339, 340, 341, 342, 343, 344, 345, 346, 347, 348, 349, 350, 351, 352, 353, 354, 355, 356]


def flatten(rows):
    '''turn [day, v1, v2, ...] rows into x and y lists'''
    xs = []
    ys = []
    for row in rows:
        for v in row[1:]:
            xs.append(row[0])
            ys.append(v)
    return xs, ys


fig = plt.figure(figsize=(23.05, 10.81), dpi=100)
ax = fig.add_axes([139.5 / 2305, 1 - 865 / 1081, (2286 - 139.5) / 2305, (865 - 16) / 1081])

grey = '#595959'
x, y = flatten(candor_rows)
ax.plot(x, y, ls='none', marker='o', ms=11.2, mfc='#00B0F0', mec='#00B0F0', mew=0, clip_on=False, label='Candor', zorder=3)
x, y = flatten(cowan_low + cowan_mid)
ax.plot(x, y, ls='none', marker='^', ms=10, mfc='none', mec='#C00000', mew=1.7, clip_on=False, label='Cowan', zorder=4)
x, y = flatten(sarecta_rows + sarecta_band)
x = x + sarecta_zero_days
y = y + [0] * len(sarecta_zero_days)
ax.plot(x, y, ls='none', marker='D', ms=8.6, mfc='#7030A0', mec='#7030A0', mew=0, clip_on=False, label='Sarecta', zorder=5)

x, y = flatten(wd_early + wd_nov + wd_dec_jan + wd_feb_mar + wd_between_a + wd_between_b + wd_upper)
x = x + wd_high_days + wd_zero_days
y = y + wd_high_vals + [0] * len(wd_zero_days)
ax.plot(x, y, ls='none', marker='s', ms=9, mfc='none', mec='#00B050', mew=1.8, clip_on=False, label='Williamsdale', zorder=6)

ax.set_xlim(0, 400)
ax.set_ylim(0, 140)
ax.set_xticks(tick_days)
ax.set_xticklabels(tick_labels, rotation=45, ha='right', va='center', rotation_mode='anchor', fontsize=16.5, color=grey)
for lab in ax.get_xticklabels():
    lab.set_transform(lab.get_transform() + ScaledTranslation(-4 / 100, 0, fig.dpi_scale_trans))
ax.set_yticks(y_ticks)
ax.tick_params(axis='x', length=6, width=1.5, color='#BFBFBF', pad=15)
ax.tick_params(axis='y', length=0, labelsize=17, labelcolor=grey, pad=14)

ax.grid(axis='y', color='#D9D9D9', lw=1.5)
ax.set_axisbelow(True)
for side in ['top', 'right']:
    ax.spines[side].set_visible(False)
for side in ['left', 'bottom']:
    ax.spines[side].set_color('#BFBFBF')
    ax.spines[side].set_linewidth(1.7)

ax.set_ylabel('1 hr Avg PM2.5 concentration (ug/m3)', fontsize=23, color=grey)
ax.yaxis.set_label_coords(-0.0405, 0.445)
ax.set_xlabel('Date', fontsize=27, color=grey)
ax.xaxis.set_label_coords(0.5, -0.213)

ax.legend(loc='upper left', bbox_to_anchor=(0.271, 0.98), ncol=4, frameon=False, numpoints=1, fontsize=23, labelcolor=grey,
          handlelength=0.6, handletextpad=0.2, columnspacing=3.16, borderpad=0)

# state outline and lettering of the agency logo, bottom right corner
outline = [(85, 685), (165, 680), (255, 605), (320, 590), (380, 550), (430, 553), (450, 510), (498, 492), (500, 455), (1215, 450),
           (1215, 475), (1170, 478), (1090, 468), (990, 485), (930, 488), (880, 475), (800, 482), (650, 482), (515, 490), (455, 565),
           (415, 575), (355, 608), (270, 632), (220, 693), (85, 693)]
logo_pts = [((1900 + px / 3) / 2305, 1 - (850 + py / 3) / 1081) for px, py in outline]
fig.add_artist(Polygon(logo_pts, closed=True, fc='#1F3F8C', ec='none', transform=fig.transFigure, zorder=-1))
fig.text(2086 / 2305, 1 - 1130 / 1081, 'DEQ', fontsize=107, fontweight='bold', color='#1F6F3A', ha='left', va='baseline', zorder=-1)

fig.savefig('out.png', dpi=100)
